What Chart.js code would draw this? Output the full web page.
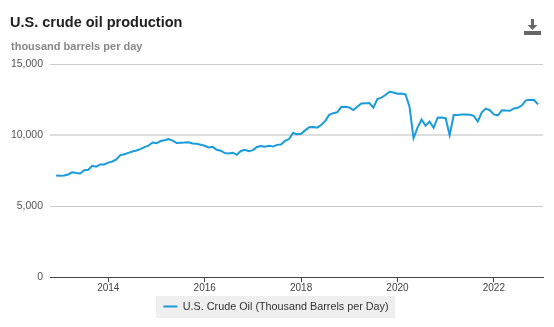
<!DOCTYPE html>
<html>
<head>
<meta charset="utf-8">
<script src="https://cdn.jsdelivr.net/npm/chart.js@4"></script>
<style>
  html, body { margin: 0; padding: 0; background: #fff; }
  body { width: 554px; height: 327px; position: relative; overflow: hidden; font-family: "Liberation Sans", Arial, sans-serif; }
  #title { position: absolute; left: 10px; top: 14px; font-size: 14.5px; font-weight: bold; color: #222; }
  #subtitle { position: absolute; left: 11px; top: 40px; font-size: 11px; font-weight: bold; color: #888; }
  #dl { position: absolute; left: 524px; top: 19px; }
  #wrap { position: absolute; left: 0; top: 0; width: 554px; height: 327px; }
</style>
</head>
<body>
<div id="wrap"><canvas id="myGraph"></canvas></div>
<div id="title">U.S. crude oil production</div>
<div id="subtitle">thousand barrels per day</div>
<svg id="dl" width="17" height="16" viewBox="0 0 17 16">
  <rect x="7" y="0" width="3" height="7" fill="#666"/>
  <polygon points="3.5,6 13.5,6 8.5,11" fill="#666"/>
  <rect x="0" y="12" width="17" height="4" fill="#666"/>
</svg>
<script>
// monthly values, thousand barrels per day (Dec 2012 .. Dec 2022)
const seriesLabel = "U.S. Crude Oil (Thousand Barrels per Day)";
const prod2012 = [7150]; // December only
const prod2013 = [7130, 7160, 7230, 7380, 7330, 7300, 7520, 7560, 7840, 7780, 7930, 7930];
const prod2014 = [8060, 8140, 8280, 8590, 8650, 8750, 8840, 8910, 9010, 9150, 9250, 9480];
const prod2015 = [9420, 9580, 9630, 9720, 9610, 9450, 9460, 9470, 9500, 9410, 9390, 9320];
const prod2016 = [9250, 9130, 9170, 8960, 8900, 8730, 8710, 8760, 8610, 8880, 8960, 8860];
const prod2017 = [8940, 9160, 9230, 9180, 9250, 9190, 9310, 9330, 9590, 9720, 10150, 10060];
const prod2018 = [10090, 10330, 10550, 10560, 10520, 10710, 10980, 11420, 11540, 11600, 11970, 11990];
const prod2019 = [11940, 11760, 11990, 12220, 12230, 12260, 11930, 12530, 12630, 12820, 13050, 12990];
const prod2020 = [12910, 12920, 12860, 12000, 9790, 10530, 11090, 10660, 10950, 10510, 11220, 11240];
const prod2021 = [11190, 9990, 11410, 11410, 11440, 11440, 11430, 11350, 10950, 11600, 11860, 11750];
const prod2022 = [11450, 11390, 11740, 11720, 11710, 11870, 11920, 12100, 12440, 12490, 12470, 12160];

const xTickYears = [2014, 2016, 2018, 2020, 2022];
const yTicks = [0, 5000, 10000, 15000];

const lineColor = '#1a9bdc';

// turn the yearly arrays into {x: decimal year, y}
function buildPoints() {
  const pts = [];
  pts.push({ x: 2012 + 11 / 12, y: prod2012[0] });
  const years = [
    [2013, prod2013], [2014, prod2014], [2015, prod2015], [2016, prod2016],
    [2017, prod2017], [2018, prod2018], [2019, prod2019], [2020, prod2020],
    [2021, prod2021], [2022, prod2022]
  ];
  years.forEach(([yr, vals]) => {
    vals.forEach((v, m) => pts.push({ x: yr + m / 12, y: v }));
  });
  return pts;
}

// grey box behind the legend
const legendBg = {
  id: 'legendBg',
  beforeDraw(chart) {
    const boxes = chart.legend && chart.legend.legendHitBoxes;
    if (!boxes || !boxes.length) return;
    const hb = boxes[0];
    const cy = hb.top + hb.height / 2;
    const c = chart.ctx;
    c.save();
    c.fillStyle = '#efefef';
    c.fillRect(Math.round(hb.left - 7), Math.round(cy - 11), Math.round(hb.width + 14), 22);
    c.restore();
  }
};

const graph = document.getElementById('myGraph');
const chart = new Chart(graph, {
  type: 'line',
  data: {
    datasets: [{
      label: seriesLabel,
      data: buildPoints(),
      borderColor: lineColor,
      backgroundColor: lineColor,
      borderWidth: 2,
      pointRadius: 0,
      tension: 0,
      fill: false
    }]
  },
  options: {
    responsive: true,
    maintainAspectRatio: false,
    animation: false,
    parsing: false,
    layout: { padding: { top: 64, right: 11, bottom: 5, left: 9 } },
    plugins: {
      tooltip: { enabled: false },
      legend: {
        position: 'bottom',
        labels: {
          boxWidth: 14,
          boxHeight: 0,
          padding: 6,
          color: '#333',
          font: { family: '"Liberation Sans", Arial, sans-serif', size: 10.8 }
        }
      }
    },
    scales: {
      x: {
        type: 'linear',
        min: 2012.79,
        max: 2023.02,
        afterBuildTicks: (scale) => { scale.ticks = xTickYears.map(v => ({ value: v })); },
        afterFit: (scale) => { scale.height = 18; },
        grid: { drawOnChartArea: false, drawTicks: true, tickLength: 5, color: '#444' },
        border: { display: true, color: '#444', width: 1 },
        ticks: {
          padding: 0,
          maxRotation: 0,
          color: '#444',
          font: { family: '"Liberation Sans", Arial, sans-serif', size: 10 },
          callback: (v) => String(v)
        }
      },
      y: {
        min: 0,
        max: 15000,
        afterBuildTicks: (scale) => { scale.ticks = yTicks.map(v => ({ value: v })); },
        afterFit: (scale) => { scale.width = 41; },
        border: { display: false },
        grid: {
          drawTicks: false,
          color: (ctx) => ctx.tick && ctx.tick.value === 10000 ? '#dddddd' : '#cccccc',
          lineWidth: (ctx) => ctx.tick && ctx.tick.value === 10000 ? 2 : 1
        },
        ticks: {
          padding: 7,
          color: '#555',
          font: { family: '"Liberation Sans", Arial, sans-serif', size: 10.5 },
          callback: (v) => Number(v).toLocaleString('en-US')
        }
      }
    }
  },
  plugins: [legendBg]
});
</script>
</body>
</html>
